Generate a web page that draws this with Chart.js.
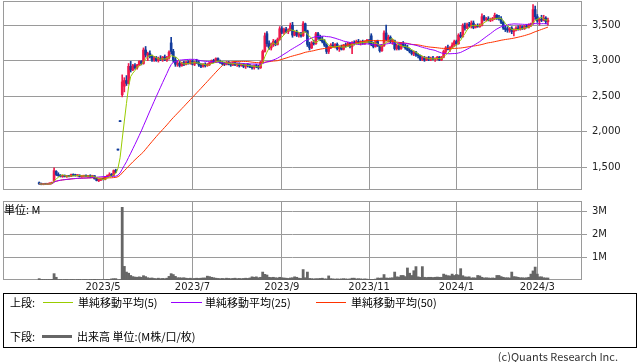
<!DOCTYPE html>
<html><head><meta charset="utf-8">
<script src="https://cdn.jsdelivr.net/npm/chart.js@4.4.1/dist/chart.umd.min.js"></script>
<style>
html,body{margin:0;padding:0;background:#fff;}
#wrap{position:relative;width:638px;height:362px;overflow:hidden;font-family:"Noto Sans CJK JP","Noto Sans",sans-serif;color:#000;}
canvas{position:absolute;left:0;}
.t{position:absolute;font-size:11px;line-height:12px;white-space:nowrap;}
.ln{position:absolute;height:1px;}
</style></head>
<body><div id="wrap">
<canvas id="main" width="638" height="192" style="top:0"></canvas>
<canvas id="vol" width="638" height="102" style="top:192px"></canvas>
<div class="t" style="left:4px;top:203px;">単位: M</div>
<div style="position:absolute;left:3px;top:293px;width:632px;height:53px;border:1px solid #000;"></div>
<div class="t" style="left:10px;top:296px;">上段:</div>
<div class="ln" style="left:43px;top:302px;width:30px;background:#99cc00"></div>
<div class="t" style="left:78px;top:296px;">単純移動平均(5)</div>
<div class="ln" style="left:171px;top:302px;width:31px;background:#9900ff"></div>
<div class="t" style="left:205px;top:296px;">単純移動平均(25)</div>
<div class="ln" style="left:316px;top:302px;width:30px;background:#ff3300"></div>
<div class="t" style="left:351px;top:296px;">単純移動平均(50)</div>
<div class="t" style="left:10px;top:330px;">下段:</div>
<div class="ln" style="left:42px;top:335px;width:30px;height:3px;background:#666"></div>
<div class="t" style="left:77px;top:330px;">出来高 単位:(M株/口/枚)</div>
<div class="t" style="right:20px;top:350px;color:#333;">(c)Quants Research Inc.</div>
</div>
<script>
// ---- data (trading-day index 0 = first session shown) ----
const monthIdx = [30, 72, 114, 155, 196, 234];
const monthLabels = ['2023/5', '2023/7', '2023/9', '2023/11', '2024/1', '2024/3'];
const priceTicks = [1500, 2000, 2500, 3000, 3500];
const volTicks = [1, 2, 3];

const open = [
1280,1265,1255,1262,1258,1265,1270,1300,1440,1395,
1380,1370,1378,1365,1372,1368,1395,1380,1378,1385,
1365,1372,1375,1370,1380,1360,1378,1335,1310,1320,
1330,1325,1365,1380,1395,1385,1450,1740,2140,2520,
2640,2720,2680,2920,2870,2930,2900,2940,2990,2960,
3150,3080,3100,3060,3010,3040,3000,3030,3020,3050,
3010,3040,3250,3130,3010,2950,2960,2930,2970,2950,
2980,2960,2990,2950,2980,2970,2940,2920,2950,2930,
2945,2970,3000,2980,3030,2990,2970,2960,2950,2980,
2950,2940,2970,2945,2960,2930,2950,2920,2940,2930,
2910,2900,2930,2915,2900,2980,3130,3380,3240,3180,
3230,3270,3230,3300,3450,3400,3440,3410,3430,3500,
3360,3400,3360,3380,3350,3520,3420,3230,3180,3250,
3240,3380,3330,3300,3270,3220,3130,3180,3220,3200,
3230,3170,3190,3160,3220,3210,3240,3200,3250,3240,
3270,3250,3260,3245,3270,3285,3350,3230,3200,3270,
3210,3140,3210,3390,3300,3330,3270,3280,3170,3210,
3170,3240,3210,3180,3150,3130,3100,3120,3080,3070,
3020,3040,3010,3040,3020,3030,3020,3030,3050,3010,
3050,3130,3180,3160,3190,3220,3270,3240,3360,3340,
3500,3460,3510,3490,3530,3470,3490,3480,3500,3620,
3580,3590,3570,3580,3590,3640,3600,3590,3540,3460,
3440,3430,3460,3410,3430,3460,3440,3480,3450,3480,
3470,3500,3520,3720,3620,3560,3580,3570,3600,3550];
const high = [
1290,1275,1270,1270,1268,1275,1290,1490,1450,1420,
1395,1385,1390,1380,1385,1400,1405,1400,1395,1392,
1380,1385,1390,1385,1392,1385,1380,1345,1330,1340,
1345,1370,1390,1420,1410,1460,1470,1740,2140,2800,
2760,2790,2960,2990,2950,2960,2950,3000,3000,3180,
3200,3120,3140,3080,3060,3060,3050,3070,3060,3080,
3060,3140,3330,3160,3050,3000,2990,2980,2990,2990,
3000,3010,3010,2990,3020,3000,2960,2960,2970,2960,
2980,3010,3020,3040,3040,3010,2990,2980,2990,2990,
2970,2980,2990,2970,2970,2960,2960,2950,2960,2950,
2930,2940,2950,2935,2990,3150,3390,3410,3280,3250,
3300,3290,3320,3480,3480,3460,3470,3450,3530,3540,
3420,3430,3400,3400,3550,3530,3430,3260,3270,3290,
3400,3400,3360,3340,3300,3240,3200,3240,3260,3240,
3250,3210,3220,3230,3250,3260,3260,3270,3280,3290,
3300,3280,3290,3280,3300,3300,3380,3260,3280,3290,
3220,3230,3420,3500,3360,3350,3300,3290,3230,3240,
3260,3270,3230,3220,3170,3150,3140,3130,3100,3080,
3060,3060,3050,3060,3050,3060,3040,3060,3060,3060,
3150,3200,3220,3200,3250,3290,3290,3380,3400,3520,
3530,3530,3540,3560,3560,3510,3520,3520,3660,3640,
3610,3620,3600,3610,3670,3650,3640,3620,3560,3490,
3480,3470,3480,3450,3480,3490,3500,3490,3500,3510,
3520,3530,3790,3770,3650,3600,3640,3640,3620,3600];
const low = [
1255,1250,1250,1255,1252,1258,1265,1295,1380,1370,
1360,1355,1360,1355,1362,1365,1375,1372,1370,1360,
1355,1360,1365,1355,1350,1350,1330,1305,1295,1310,
1320,1320,1355,1375,1375,1380,1420,1740,2140,2490,
2560,2650,2670,2840,2860,2880,2880,2930,2940,2950,
3050,3000,3040,2990,2990,2990,2980,3000,2990,3000,
2990,3020,3090,2980,2920,2920,2910,2920,2930,2940,
2950,2950,2940,2930,2960,2920,2900,2910,2910,2920,
2930,2960,2970,2970,2980,2960,2940,2930,2940,2940,
2920,2930,2930,2920,2910,2920,2900,2890,2910,2900,
2880,2880,2900,2880,2890,2970,3120,3200,3160,3150,
3200,3210,3220,3290,3380,3370,3390,3380,3420,3330,
3350,3340,3330,3330,3340,3400,3200,3150,3170,3220,
3230,3300,3280,3250,3200,3100,3100,3170,3190,3180,
3150,3130,3150,3150,3190,3200,3180,3100,3220,3230,
3230,3220,3230,3230,3250,3240,3210,3180,3190,3200,
3120,3130,3200,3280,3260,3250,3230,3150,3150,3150,
3160,3190,3160,3140,3110,3080,3070,3060,3040,3000,
3000,2990,3000,3000,3000,3010,2990,3010,3000,3000,
3040,3100,3150,3130,3170,3200,3220,3230,3320,3330,
3430,3450,3470,3460,3450,3460,3470,3470,3490,3560,
3560,3560,3550,3560,3580,3580,3570,3520,3440,3410,
3400,3400,3380,3350,3420,3430,3430,3440,3440,3460,
3460,3480,3510,3580,3540,3500,3550,3560,3520,3500];
const close = [
1265,1255,1262,1258,1265,1270,1285,1450,1395,1380,
1370,1378,1365,1372,1368,1395,1380,1378,1385,1365,
1372,1375,1370,1380,1360,1378,1335,1310,1320,1330,
1325,1365,1380,1395,1385,1450,1440,1740,2140,2700,
2720,2680,2920,2870,2930,2900,2940,2990,2960,3150,
3080,3100,3060,3010,3040,3000,3030,3020,3050,3010,
3040,3120,3130,3010,2950,2960,2930,2970,2950,2980,
2960,2990,2950,2980,2970,2940,2920,2950,2930,2945,
2970,3000,2980,3030,2990,2970,2960,2950,2980,2950,
2940,2970,2945,2960,2930,2950,2920,2940,2930,2910,
2900,2930,2915,2900,2980,3130,3350,3240,3180,3230,
3270,3230,3300,3450,3400,3440,3410,3430,3500,3360,
3400,3360,3380,3350,3520,3420,3230,3180,3250,3240,
3380,3330,3300,3270,3220,3130,3180,3220,3200,3230,
3170,3190,3160,3220,3210,3240,3200,3250,3240,3270,
3250,3260,3245,3270,3285,3260,3230,3200,3270,3210,
3140,3210,3390,3300,3330,3270,3280,3170,3210,3170,
3240,3210,3180,3150,3130,3100,3120,3080,3070,3020,
3040,3010,3040,3020,3030,3020,3030,3050,3010,3050,
3130,3180,3160,3190,3220,3270,3240,3360,3340,3500,
3460,3510,3490,3530,3470,3490,3480,3500,3620,3580,
3590,3570,3580,3590,3640,3600,3590,3540,3460,3440,
3430,3460,3410,3430,3460,3440,3480,3450,3480,3470,
3500,3520,3720,3620,3560,3580,3570,3600,3550,3570];
// volume in millions of shares
const volume = [
0.06,0.02,0.02,0.02,0.02,0.02,0.03,0.28,0.12,0.02,
0.02,0.01,0.02,0.02,0.01,0.02,0.02,0.01,0.02,0.02,
0.01,0.02,0.02,0.01,0.02,0.02,0.03,0.02,0.02,0.01,
0.02,0.02,0.03,0.02,0.05,0.06,0.06,0.01,0.02,3.2,
0.6,0.35,0.3,0.2,0.15,0.13,0.12,0.14,0.12,0.19,
0.15,0.1,0.08,0.09,0.07,0.06,0.08,0.06,0.07,0.06,
0.08,0.16,0.28,0.24,0.16,0.1,0.1,0.09,0.1,0.08,
0.07,0.08,0.06,0.07,0.08,0.07,0.08,0.09,0.09,0.17,
0.15,0.12,0.1,0.08,0.07,0.06,0.07,0.06,0.08,0.07,
0.06,0.07,0.08,0.06,0.07,0.06,0.07,0.08,0.07,0.09,
0.14,0.12,0.14,0.1,0.12,0.35,0.25,0.22,0.12,0.11,
0.12,0.1,0.09,0.12,0.1,0.09,0.08,0.07,0.09,0.1,
0.14,0.12,0.08,0.07,0.46,0.1,0.35,0.07,0.06,0.05,
0.06,0.06,0.07,0.08,0.05,0.05,0.18,0.06,0.05,0.04,
0.05,0.04,0.05,0.06,0.05,0.04,0.05,0.08,0.08,0.05,
0.06,0.05,0.04,0.05,0.04,0.03,0.03,0.03,0.04,0.09,
0.08,0.09,0.24,0.09,0.08,0.09,0.1,0.35,0.14,0.13,
0.2,0.2,0.15,0.53,0.3,0.2,0.41,0.59,0.14,0.12,
0.59,0.12,0.11,0.12,0.12,0.11,0.12,0.13,0.12,0.12,
0.26,0.22,0.19,0.18,0.26,0.2,0.24,0.22,0.5,0.19,
0.14,0.13,0.14,0.09,0.1,0.09,0.2,0.18,0.12,0.09,
0.1,0.09,0.08,0.09,0.08,0.2,0.2,0.15,0.12,0.1,
0.1,0.09,0.35,0.15,0.14,0.12,0.1,0.1,0.09,0.1,
0.12,0.26,0.4,0.57,0.26,0.14,0.14,0.1,0.09,0.09];

// ---- derived: simple moving averages of the closes (as the legend states) ----
function sma(arr, n) {
  return arr.map((_, i) => {
    const s = Math.max(0, i - n + 1);
    const w = arr.slice(s, i + 1);
    return w.reduce((a, b) => a + b, 0) / w.length;
  });
}
const ma5 = sma(close, 5), ma25 = sma(close, 25), ma50 = sma(close, 50);

const UP = '#ee1a4c', DOWN = '#123c9c';
const candleColors = close.map((c, i) => c > open[i] ? UP : DOWN);
const GRID = '#9a9a9a';
const tickFont = { family: 'DejaVu Sans', size: 10 };

const frame = {
  id: 'frame',
  beforeDatasetsDraw(chart) {
    const a = chart.chartArea, c = chart.ctx;
    c.save(); c.strokeStyle = GRID; c.lineWidth = 1;
    c.strokeRect(Math.round(a.left) + 0.5, Math.round(a.top) + 0.5,
                 Math.round(a.right - a.left) - 1, Math.round(a.bottom - a.top) - 1);
    c.restore();
  }
};
const noPad = s => { s.paddingTop = 0; s.paddingBottom = 0; s.paddingLeft = 0; s.paddingRight = 0; };

const xCommon = {
  type: 'linear', min: -17, max: 255, offset: false,
  grid: { color: GRID, drawTicks: false, offset: false },
  border: { display: false },
  afterBuildTicks: s => { s.ticks = monthIdx.map(v => ({ value: v })); }
};

new Chart(document.getElementById('main'), {
  type: 'bar',
  data: {
    datasets: [
      { type: 'line', data: ma5.map((v, i) => ({ x: i, y: v })), borderColor: '#99cc00', borderWidth: 1, pointRadius: 0, order: 0 },
      { type: 'line', data: ma25.map((v, i) => ({ x: i, y: v })), borderColor: '#9900ff', borderWidth: 1, pointRadius: 0, order: 0 },
      { type: 'line', data: ma50.map((v, i) => ({ x: i, y: v })), borderColor: '#ff3300', borderWidth: 1, pointRadius: 0, order: 0 },
      { type: 'bar', data: open.map((o, i) => ({ x: i, y: [o, close[i]] })), backgroundColor: candleColors,
        barThickness: 2, minBarLength: 1, grouped: false, order: 1 },
      { type: 'bar', data: low.map((l, i) => ({ x: i, y: [l, high[i]] })), backgroundColor: candleColors,
        barThickness: 1, minBarLength: 1, grouped: false, order: 2 }
    ]
  },
  options: {
    responsive: false, animation: false, events: [],
    layout: { padding: { left: 3, top: 1, right: 0, bottom: 2 } },
    plugins: { legend: { display: false }, tooltip: { enabled: false } },
    scales: {
      x: Object.assign({}, xCommon, { ticks: { display: false }, afterFit: s => { s.height = 0; noPad(s); } }),
      y: {
        position: 'right', min: 1177, max: 3841,
        grid: { color: GRID, tickLength: 5 }, border: { display: false },
        ticks: { font: tickFont, color: '#222', padding: 5,
                 callback: v => v.toLocaleString('en-US') },
        afterBuildTicks: s => { s.ticks = priceTicks.map(v => ({ value: v })); },
        afterFit: s => { s.width = 56; noPad(s); }
      }
    }
  },
  plugins: [frame]
});

new Chart(document.getElementById('vol'), {
  type: 'bar',
  data: {
    datasets: [
      { data: volume.map((v, i) => ({ x: i, y: v })), backgroundColor: '#666666',
        barPercentage: 1, categoryPercentage: 1 }
    ]
  },
  options: {
    responsive: false, animation: false, events: [],
    layout: { padding: { left: 3, top: 9, right: 0, bottom: 0 } },
    plugins: { legend: { display: false }, tooltip: { enabled: false } },
    scales: {
      x: Object.assign({}, xCommon, {
        ticks: { font: tickFont, color: '#222', padding: 1, maxRotation: 0, autoSkip: false,
                 callback: v => monthLabels[monthIdx.indexOf(v)] },
        afterFit: s => { s.height = 14; noPad(s); }
      }),
      y: {
        position: 'right', min: 0, max: 3.48,
        grid: { color: GRID, tickLength: 5 }, border: { display: false },
        ticks: { font: tickFont, color: '#222', padding: 5, callback: v => v + 'M' },
        afterBuildTicks: s => { s.ticks = volTicks.map(v => ({ value: v })); },
        afterFit: s => { s.width = 56; noPad(s); }
      }
    }
  },
  plugins: [frame]
});
</script>
</body></html>
